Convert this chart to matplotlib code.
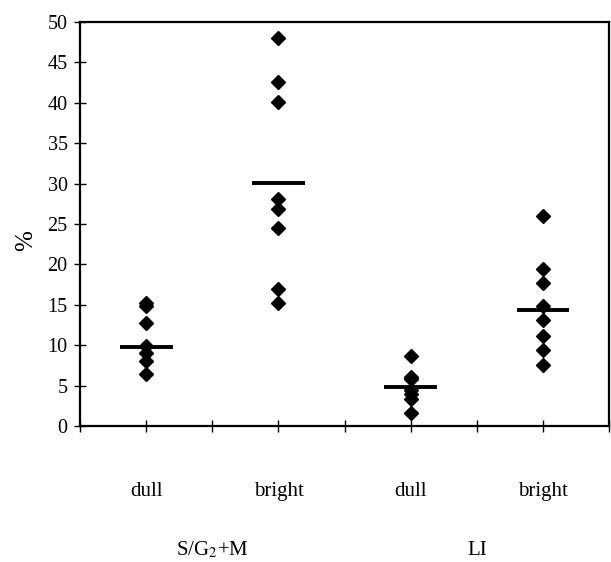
import matplotlib; matplotlib.use("Agg")
import matplotlib.pyplot as plt

# data
cond_labels = ["dull", "bright", "dull", "bright"]
group_labels = ["S/G$_2$+M", "LI"]
sg2m_dull = [15.2, 14.8, 12.8, 9.9, 9.0, 8.1, 6.4]
sg2m_bright = [48.0, 42.6, 40.1, 28.1, 26.9, 24.5, 17.0, 15.2]
li_dull = [8.6, 6.1, 5.8, 4.5, 3.9, 3.3, 1.6]
li_bright = [26.0, 19.4, 17.7, 14.9, 13.1, 11.1, 9.4, 7.6]
means = [9.8, 30.1, 4.8, 14.3]

plt.rcParams["font.family"] = ["Liberation Serif", "DejaVu Serif"]
plt.rcParams["mathtext.fontset"] = "stix"
fig = plt.figure(figsize=(6.11, 5.62), dpi=100)
ax = fig.add_axes([0.131, 0.242, 0.866, 0.719])

series = [sg2m_dull, sg2m_bright, li_dull, li_bright]
xpos = [1, 3, 5, 7]
for x, vals, m in zip(xpos, series, means):
    ax.plot([x]*len(vals), vals, "D", color="black", markersize=6.8, zorder=3)
    ax.hlines(m, x-0.4, x+0.4, color="black", lw=2.8, zorder=4)

ax.set_xlim(0, 8); ax.set_ylim(0, 50)
ax.set_yticks(range(0, 51, 5))
ax.set_xticks(range(0, 9))
ax.set_xticklabels([])
ax.tick_params(axis="x", direction="inout", length=8, width=1)
ax.tick_params(axis="y", direction="inout", length=8, width=1, labelsize=14.5, pad=5)
for s in ax.spines.values():
    s.set_linewidth(1.6)

tr = ax.get_xaxis_transform()
for x, lab in zip(xpos, cond_labels):
    ax.text(x, -0.163, lab, transform=tr, ha="center", va="center", fontsize=15)
for x, lab in zip([2, 6], group_labels):
    ax.text(x, -0.307, lab, transform=tr, ha="center", va="center", fontsize=15)
ax.set_ylabel("%", fontsize=18)
ax.yaxis.set_label_coords(-0.082, 0.46)

plt.savefig("out.png", dpi=100)
plt.close()
